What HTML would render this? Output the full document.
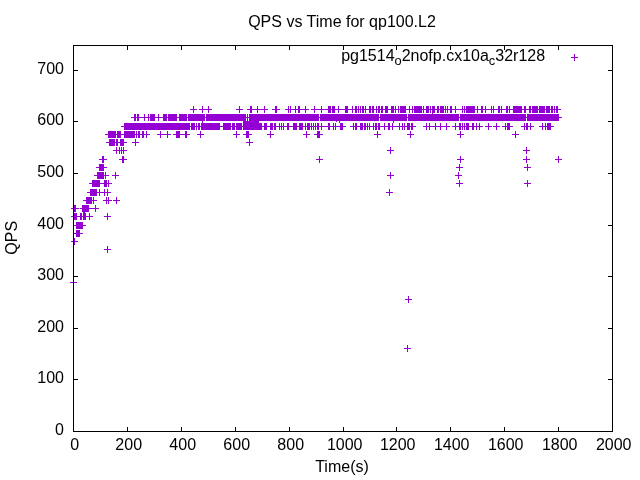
<!DOCTYPE html>
<html><head><meta charset="utf-8"><title>QPS vs Time for qp100.L2</title>
<style>
html,body{margin:0;padding:0;background:#fff;}
body{width:640px;height:480px;overflow:hidden;}
svg{display:block;will-change:transform;}
text{font-family:"Liberation Sans",sans-serif;font-size:16px;fill:#000;}
</style></head><body>
<svg width="640" height="480" viewBox="0 0 640 480">
<rect x="0" y="0" width="640" height="480" fill="#ffffff"/>
<path fill="#000" shape-rendering="crispEdges" d="M73 431h5v1h-5zM608 431h5v1h-5zM73 379h5v1h-5zM608 379h5v1h-5zM73 328h5v1h-5zM608 328h5v1h-5zM73 276h5v1h-5zM608 276h5v1h-5zM73 225h5v1h-5zM608 225h5v1h-5zM73 173h5v1h-5zM608 173h5v1h-5zM73 121h5v1h-5zM608 121h5v1h-5zM73 70h5v1h-5zM608 70h5v1h-5zM73 427h1v5h-1zM73 45h1v5h-1zM127 427h1v5h-1zM127 45h1v5h-1zM181 427h1v5h-1zM181 45h1v5h-1zM235 427h1v5h-1zM235 45h1v5h-1zM289 427h1v5h-1zM289 45h1v5h-1zM343 427h1v5h-1zM343 45h1v5h-1zM396 427h1v5h-1zM396 45h1v5h-1zM450 427h1v5h-1zM450 45h1v5h-1zM504 427h1v5h-1zM504 45h1v5h-1zM558 427h1v5h-1zM558 45h1v5h-1zM612 427h1v5h-1zM612 45h1v5h-1z"/>
<path fill="#9400D3" shape-rendering="crispEdges" d="M190 109h7v1h-7zM199 109h13v1h-13zM236 109h7v1h-7zM247 109h21v1h-21zM272 109h8v1h-8zM285 109h24v1h-24zM311 109h250v1h-250zM193 106h1v7h-1zM202 106h1v7h-1zM208 106h1v7h-1zM239 106h1v7h-1zM250 106h2v7h-2zM257 106h1v7h-1zM264 106h1v7h-1zM275 106h2v7h-2zM288 106h1v7h-1zM290 106h1v7h-1zM295 106h1v7h-1zM298 106h2v7h-2zM305 106h1v7h-1zM314 106h1v7h-1zM321 106h1v7h-1zM328 106h3v7h-3zM332 106h3v7h-3zM338 106h1v7h-1zM345 106h3v7h-3zM352 106h1v7h-1zM355 106h2v7h-2zM358 106h1v7h-1zM360 106h1v7h-1zM362 106h2v7h-2zM365 106h1v7h-1zM369 106h2v7h-2zM372 106h2v7h-2zM376 106h1v7h-1zM378 106h2v7h-2zM381 106h2v7h-2zM385 106h3v7h-3zM391 106h3v7h-3zM395 106h1v7h-1zM398 106h1v7h-1zM400 106h6v7h-6zM409 106h1v7h-1zM412 106h1v7h-1zM414 106h8v7h-8zM423 106h1v7h-1zM426 106h3v7h-3zM430 106h1v7h-1zM432 106h3v7h-3zM437 106h2v7h-2zM440 106h4v7h-4zM445 106h1v7h-1zM447 106h1v7h-1zM450 106h2v7h-2zM455 106h1v7h-1zM462 106h1v7h-1zM464 106h1v7h-1zM466 106h9v7h-9zM477 106h1v7h-1zM481 106h2v7h-2zM485 106h1v7h-1zM491 106h1v7h-1zM493 106h1v7h-1zM498 106h2v7h-2zM501 106h1v7h-1zM506 106h2v7h-2zM509 106h1v7h-1zM513 106h9v7h-9zM524 106h2v7h-2zM529 106h2v7h-2zM532 106h6v7h-6zM539 106h6v7h-6zM546 106h4v7h-4zM551 106h2v7h-2zM554 106h1v7h-1zM556 106h2v7h-2zM131 117h431v1h-431zM134 114h2v7h-2zM137 114h2v7h-2zM144 114h1v7h-1zM148 114h1v7h-1zM150 114h5v7h-5zM158 114h1v7h-1zM163 114h4v7h-4zM168 114h9v7h-9zM179 114h8v7h-8zM188 114h17v7h-17zM206 114h40v7h-40zM247 114h1v7h-1zM249 114h70v7h-70zM320 114h59v7h-59zM380 114h27v7h-27zM408 114h51v7h-51zM460 114h66v7h-66zM527 114h32v7h-32zM121 126h225v1h-225zM350 126h66v1h-66zM423 126h27v1h-27zM452 126h31v1h-31zM485 126h7v1h-7zM493 126h7v1h-7zM502 126h11v1h-11zM521 126h13v1h-13zM539 126h15v1h-15zM124 123h66v7h-66zM191 123h4v7h-4zM196 123h1v7h-1zM198 123h2v7h-2zM201 123h19v7h-19zM223 123h8v7h-8zM232 123h3v7h-3zM236 123h6v7h-6zM243 123h19v7h-19zM264 123h3v7h-3zM270 123h3v7h-3zM274 123h2v7h-2zM279 123h1v7h-1zM281 123h1v7h-1zM283 123h1v7h-1zM287 123h2v7h-2zM293 123h4v7h-4zM299 123h4v7h-4zM305 123h1v7h-1zM307 123h3v7h-3zM311 123h1v7h-1zM313 123h1v7h-1zM315 123h1v7h-1zM317 123h2v7h-2zM321 123h1v7h-1zM328 123h2v7h-2zM333 123h1v7h-1zM335 123h1v7h-1zM340 123h3v7h-3zM353 123h1v7h-1zM355 123h2v7h-2zM360 123h3v7h-3zM364 123h2v7h-2zM367 123h1v7h-1zM369 123h1v7h-1zM373 123h1v7h-1zM375 123h2v7h-2zM378 123h2v7h-2zM384 123h1v7h-1zM388 123h2v7h-2zM392 123h1v7h-1zM399 123h1v7h-1zM402 123h1v7h-1zM404 123h1v7h-1zM407 123h3v7h-3zM411 123h2v7h-2zM426 123h1v7h-1zM429 123h1v7h-1zM435 123h1v7h-1zM440 123h1v7h-1zM446 123h1v7h-1zM455 123h1v7h-1zM459 123h2v7h-2zM462 123h1v7h-1zM464 123h1v7h-1zM466 123h3v7h-3zM472 123h2v7h-2zM476 123h1v7h-1zM479 123h1v7h-1zM488 123h1v7h-1zM496 123h1v7h-1zM505 123h1v7h-1zM507 123h3v7h-3zM524 123h1v7h-1zM526 123h2v7h-2zM530 123h1v7h-1zM542 123h1v7h-1zM545 123h1v7h-1zM547 123h4v7h-4zM105 134h45v1h-45zM157 134h14v1h-14zM173 134h17v1h-17zM197 134h7v1h-7zM233 134h7v1h-7zM243 134h9v1h-9zM267 134h7v1h-7zM303 134h7v1h-7zM314 134h9v1h-9zM374 134h7v1h-7zM407 134h7v1h-7zM457 134h7v1h-7zM512 134h7v1h-7zM108 131h8v7h-8zM117 131h4v7h-4zM124 131h11v7h-11zM136 131h1v7h-1zM138 131h2v7h-2zM142 131h2v7h-2zM146 131h1v7h-1zM160 131h1v7h-1zM167 131h1v7h-1zM176 131h4v7h-4zM185 131h2v7h-2zM200 131h1v7h-1zM236 131h1v7h-1zM246 131h3v7h-3zM270 131h1v7h-1zM306 131h1v7h-1zM317 131h3v7h-3zM377 131h1v7h-1zM410 131h1v7h-1zM460 131h1v7h-1zM515 131h1v7h-1zM106 142h21v1h-21zM132 142h7v1h-7zM246 142h7v1h-7zM109 139h6v7h-6zM116 139h2v7h-2zM120 139h4v7h-4zM135 139h1v7h-1zM249 139h1v7h-1zM113 150h14v1h-14zM387 150h7v1h-7zM523 150h7v1h-7zM116 147h1v7h-1zM119 147h1v7h-1zM121 147h1v7h-1zM123 147h1v7h-1zM390 147h1v7h-1zM526 147h1v7h-1zM99 159h8v1h-8zM119 159h8v1h-8zM316 159h7v1h-7zM457 159h7v1h-7zM523 159h7v1h-7zM555 159h7v1h-7zM102 156h2v7h-2zM122 156h2v7h-2zM319 156h1v7h-1zM460 156h1v7h-1zM526 156h1v7h-1zM558 156h1v7h-1zM96 167h11v1h-11zM456 167h7v1h-7zM524 167h7v1h-7zM99 164h5v7h-5zM459 164h1v7h-1zM527 164h1v7h-1zM94 175h15v1h-15zM112 175h7v1h-7zM387 175h7v1h-7zM455 175h7v1h-7zM97 172h7v7h-7zM105 172h1v7h-1zM115 172h1v7h-1zM390 172h1v7h-1zM458 172h1v7h-1zM89 183h23v1h-23zM456 183h7v1h-7zM524 183h7v1h-7zM92 180h8v7h-8zM104 180h3v7h-3zM108 180h1v7h-1zM459 180h1v7h-1zM527 180h1v7h-1zM87 192h24v1h-24zM386 192h7v1h-7zM90 189h7v7h-7zM99 189h1v7h-1zM104 189h1v7h-1zM107 189h1v7h-1zM389 189h1v7h-1zM83 200h14v1h-14zM103 200h9v1h-9zM113 200h7v1h-7zM86 197h6v7h-6zM93 197h1v7h-1zM106 197h1v7h-1zM108 197h1v7h-1zM116 197h1v7h-1zM71 208h28v1h-28zM74 205h2v7h-2zM82 205h7v7h-7zM95 205h1v7h-1zM71 216h22v1h-22zM104 216h7v1h-7zM74 213h3v7h-3zM80 213h2v7h-2zM83 213h3v7h-3zM89 213h1v7h-1zM107 213h1v7h-1zM73 225h13v1h-13zM76 222h7v7h-7zM73 233h10v1h-10zM76 230h4v7h-4zM71 241h7v1h-7zM74 238h1v7h-1zM104 249h7v1h-7zM107 246h1v7h-1zM70 282h7v1h-7zM73 279h1v7h-1zM405 299h7v1h-7zM408 296h1v7h-1zM404 348h7v1h-7zM407 345h1v7h-1zM243 121h16v2h-16zM432 113h1v1h-1zM202 121h1v2h-1zM336 121h1v1h-1zM339 121h1v2h-1zM393 121h1v2h-1zM83 212h2v2h-2z"/>
<path fill="#9400D3" shape-rendering="crispEdges" d="M571 57h7v1h-7zM574 54h1v7h-1z"/>
<rect x="79" y="208" width="1" height="1" fill="#d9a6f0" shape-rendering="crispEdges"/>
<path fill="#000" shape-rendering="crispEdges" d="M73 45h540v1h-540zM73 431h540v1h-540zM73 45h1v387h-1zM612 45h1v387h-1z"/>
<text x="342" y="26.5" text-anchor="middle">QPS vs Time for qp100.L2</text>
<text x="64" y="435" text-anchor="end">0</text>
<text x="64" y="383" text-anchor="end">100</text>
<text x="64" y="332" text-anchor="end">200</text>
<text x="64" y="280" text-anchor="end">300</text>
<text x="64" y="229" text-anchor="end">400</text>
<text x="64" y="177" text-anchor="end">500</text>
<text x="64" y="125" text-anchor="end">600</text>
<text x="64" y="74" text-anchor="end">700</text>
<text x="74.7" y="449.5" text-anchor="middle">0</text>
<text x="128.7" y="449.5" text-anchor="middle">200</text>
<text x="182.7" y="449.5" text-anchor="middle">400</text>
<text x="236.7" y="449.5" text-anchor="middle">600</text>
<text x="290.7" y="449.5" text-anchor="middle">800</text>
<text x="344.7" y="449.5" text-anchor="middle">1000</text>
<text x="397.7" y="449.5" text-anchor="middle">1200</text>
<text x="451.7" y="449.5" text-anchor="middle">1400</text>
<text x="505.7" y="449.5" text-anchor="middle">1600</text>
<text x="559.7" y="449.5" text-anchor="middle">1800</text>
<text x="613.7" y="449.5" text-anchor="middle">2000</text>
<text x="342" y="471.5" text-anchor="middle">Time(s)</text>
<text transform="translate(16.75,237.75) rotate(-90)" text-anchor="middle">QPS</text>
<text x="545.1" y="61" text-anchor="end">pg1514<tspan font-size="12.8" dy="3.8">o</tspan><tspan dy="-3.8">2nofp.cx10a</tspan><tspan font-size="12.8" dy="3.8">c</tspan><tspan dy="-3.8">32r128</tspan></text>
</svg>
</body></html>
